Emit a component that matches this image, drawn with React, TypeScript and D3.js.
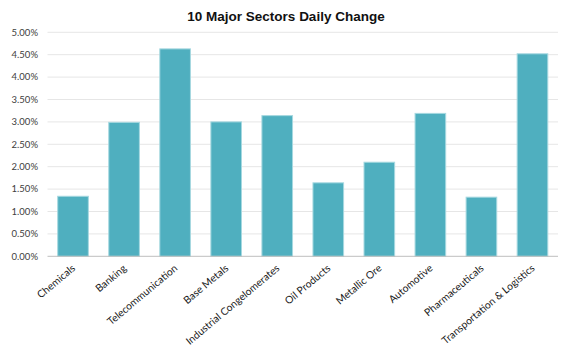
import React from "react";
import * as d3 from "d3";

const categories = [
  "Chemicals",
  "Banking",
  "Telecommunication",
  "Base Metals",
  "Industrial Congelomerates",
  "Oil Products",
  "Metallic Ore",
  "Automotive",
  "Pharmaceuticals",
  "Transportation & Logistics",
];
const values = [0.0134, 0.0299, 0.0463, 0.0300, 0.0314, 0.0164, 0.0210, 0.0319, 0.0132, 0.0452];
const yTicks = [0, 0.005, 0.01, 0.015, 0.02, 0.025, 0.03, 0.035, 0.04, 0.045, 0.05];
const title = "10 Major Sectors Daily Change";

const W = 572;
const H = 356;
const left = 47.5;
const right = 558;
const top = 32.3;
const bottom = 256.3;

export default function App() {
  const x = d3.scaleBand<string>().domain(categories).range([left, right]).paddingInner(0.4).paddingOuter(0.2);
  const y = d3.scaleLinear().domain([0, 0.05]).range([bottom, top]);
  const fmt = d3.format(".2%");
  const font = "Lato, 'Open Sans', sans-serif";
  return (
    <svg
      width={W}
      height={H}
      style={{ position: "absolute", left: 0, top: 0, background: "#fff" }}
    >
      <text
        x={W / 2}
        y={21}
        textAnchor="middle"
        fontFamily="'Liberation Sans', Arial, sans-serif"
        fontWeight="bold"
        fontSize={13.5}
        fill="#111"
      >
        {title}
      </text>
      {yTicks.map((t) => (
        <g key={t}>
          {t > 0 && (
            <line x1={left} x2={right} y1={y(t)} y2={y(t)} stroke="#e6e6e6" strokeWidth={1} />
          )}
          <text
            x={38}
            y={y(t)}
            dy="0.35em"
            textAnchor="end"
            fontFamily={font}
            fontSize={9.5}
            fill="#404040"
          >
            {fmt(t)}
          </text>
        </g>
      ))}
      {categories.map((c, i) => (
        <rect
          key={c}
          x={x(c)}
          y={y(values[i])}
          width={x.bandwidth()}
          height={bottom - y(values[i])}
          fill="#4FAFBF"
          stroke="#A6D8E0"
          strokeWidth={1}
        />
      ))}
      <line x1={left} x2={right} y1={bottom} y2={bottom} stroke="#bfbfbf" strokeWidth={1} />
      {categories.map((c) => {
        const cx = (x(c) as number) + x.bandwidth() / 2 + 3;
        const cy = bottom + 13;
        return (
          <text
            key={c}
            transform={`translate(${cx},${cy}) rotate(-40)`}
            textAnchor="end"
            fontFamily={font}
            fontSize={10.3}
            fill="#1a1a1a"
          >
            {c}
          </text>
        );
      })}
    </svg>
  );
}
